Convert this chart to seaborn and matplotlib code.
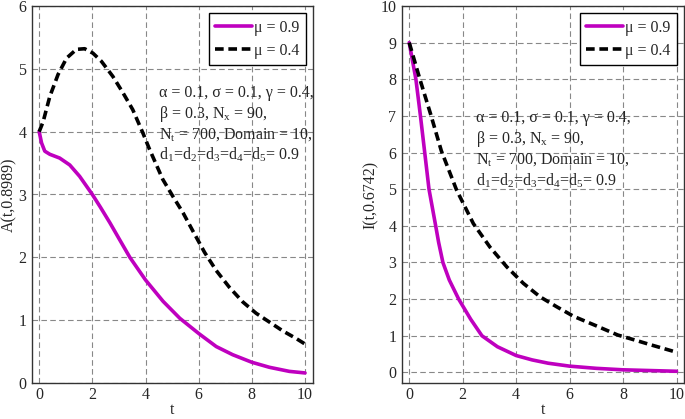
import numpy as np
import pandas as pd
import matplotlib
matplotlib.use("Agg")
import matplotlib.pyplot as plt
import seaborn as sns

# Data

# left panel: A(t, 0.8989)
t_a_09 = [0, 0.09, 0.21, 0.4, 0.77, 1.15, 1.52, 2.0, 2.3, 2.66, 3.0, 3.41, 4.0,
          4.66, 5.29, 6.01, 6.66, 7.28, 8.0, 8.66, 9.41, 10]
a_09 = [4.0, 3.82, 3.69, 3.64, 3.58, 3.47, 3.29, 3.0, 2.8, 2.55, 2.3, 2.0, 1.64,
        1.30, 1.03, 0.785, 0.58, 0.45, 0.33, 0.25, 0.185, 0.16]
t_a_04 = [0, 0.15, 0.4, 0.71, 1.03, 1.4, 1.71, 2.02, 2.34, 2.77, 3.15, 3.52, 3.9, 4.15,
          4.65, 5.03, 5.41, 5.78, 6.22, 6.66, 7.16, 7.66, 8.16, 8.66, 9.16, 9.66, 10]
a_04 = [4.0, 4.16, 4.56, 4.91, 5.17, 5.31, 5.32, 5.25, 5.12, 4.88, 4.62, 4.35, 3.98, 3.72,
        3.24, 2.97, 2.71, 2.42, 2.08, 1.79, 1.52, 1.29, 1.11, 0.97, 0.83, 0.71, 0.62]

# right panel: I(t, 0.6742)
t_i_09 = [0, 0.25, 0.42, 0.58, 0.74, 0.99, 1.1, 1.26, 1.5, 1.85, 2.3, 2.72, 3.3, 4.0, 4.6,
          5.2, 6.0, 7.0, 8.0, 9.0, 10]
i_09 = [9, 8, 7, 6, 5, 4, 3.55, 3, 2.52, 2.0, 1.45, 1.0, 0.7, 0.46, 0.34,
        0.25, 0.17, 0.11, 0.07, 0.05, 0.03]
t_i_04 = [0, 0.4, 0.8, 1.2, 1.77, 2.4, 3.02, 3.65, 4.27, 4.9, 5.52, 6.15, 7.0,
          7.8, 8.5, 9.0, 10]
i_04 = [9, 8.0, 7.05, 6.05, 4.98, 4.06, 3.42, 2.88, 2.43, 2.06, 1.79, 1.53, 1.27,
        1.02, 0.87, 0.76, 0.55]

labels = ["μ = 0.9", "μ = 0.4"]
param_text = ("α = 0.1, σ = 0.1, γ = 0.4,\n"
              "β = 0.3, N$_\\mathregular{x}$ = 90,\n"
              "N$_\\mathregular{t}$ = 700, Domain = 10,\n"
              "d$_\\mathregular{1}$=d$_\\mathregular{2}$=d$_\\mathregular{3}$"
              "=d$_\\mathregular{4}$=d$_\\mathregular{5}$= 0.9")

# Style

sns.set_style("whitegrid", {"grid.linestyle": (0, (5, 3)), "grid.color": "#888888",
                            "axes.edgecolor": "#333333"})
plt.rcParams["font.family"] = ["Liberation Serif", "DejaVu Serif"]
plt.rcParams["mathtext.fontset"] = "custom"
plt.rcParams["mathtext.rm"] = "Liberation Serif"
plt.rcParams["mathtext.it"] = "Liberation Serif:italic"

magenta = "#BF00BF"

fig = plt.figure(figsize=(6.85, 4.19), dpi=100)
W, H = 685, 419
ax1 = fig.add_axes([32 / W, (H - 383) / H, (313 - 32) / W, (383 - 6) / H])
ax2 = fig.add_axes([402 / W, (H - 383) / H, (684 - 402) / W, (383 - 6) / H])


def draw(ax, t09, y09, t04, y04):
    sns.lineplot(x=t09, y=y09, ax=ax, color=magenta, lw=2.6, label=labels[0])
    sns.lineplot(x=t04, y=y04, ax=ax, color="black", lw=2.6, label=labels[1])
    ax.lines[1].set_linestyle((0, (2.4, 1.3)))
    ax.set_xticks(range(0, 11, 2))
    ax.grid(True, lw=0.8)
    for s in ax.spines.values():
        s.set_linewidth(1.0)
    ax.tick_params(axis="y", labelsize=11.5, length=0, pad=4)
    ax.tick_params(axis="x", labelsize=11.5, length=0, pad=3)
    ax.set_xlabel("t", fontsize=11.5, labelpad=-1)
    leg = ax.legend(loc="upper right", fontsize=11.5, handlelength=2.3, fancybox=False,
                    framealpha=1, edgecolor="black", borderpad=0.4, labelspacing=0.45,
                    handletextpad=0.15, borderaxespad=0.45)
    leg.get_frame().set_linewidth(1.0)


draw(ax1, t_a_09, a_09, t_a_04, a_04)
ax1.set_xlim(-0.27, 10.3)
ax1.set_ylim(0, 6)
ax1.set_ylabel("A(t,0.8989)", fontsize=11.5, labelpad=1)
ax1.text(4.5, 4.74, param_text, fontsize=11.5, va="top", ha="left", linespacing=1.2)

draw(ax2, t_i_09, i_09, t_i_04, i_04)
ax2.set_xlim(-0.27, 10.28)
ax2.set_ylim(-0.29, 10)
ax2.set_yticks(range(0, 11))
ax2.set_ylabel("I(t,0.6742)", fontsize=11.5, labelpad=1)
ax2.text(2.5, 7.15, param_text, fontsize=11.5, va="top", ha="left", linespacing=1.2)

fig.savefig("out.png", dpi=100)
